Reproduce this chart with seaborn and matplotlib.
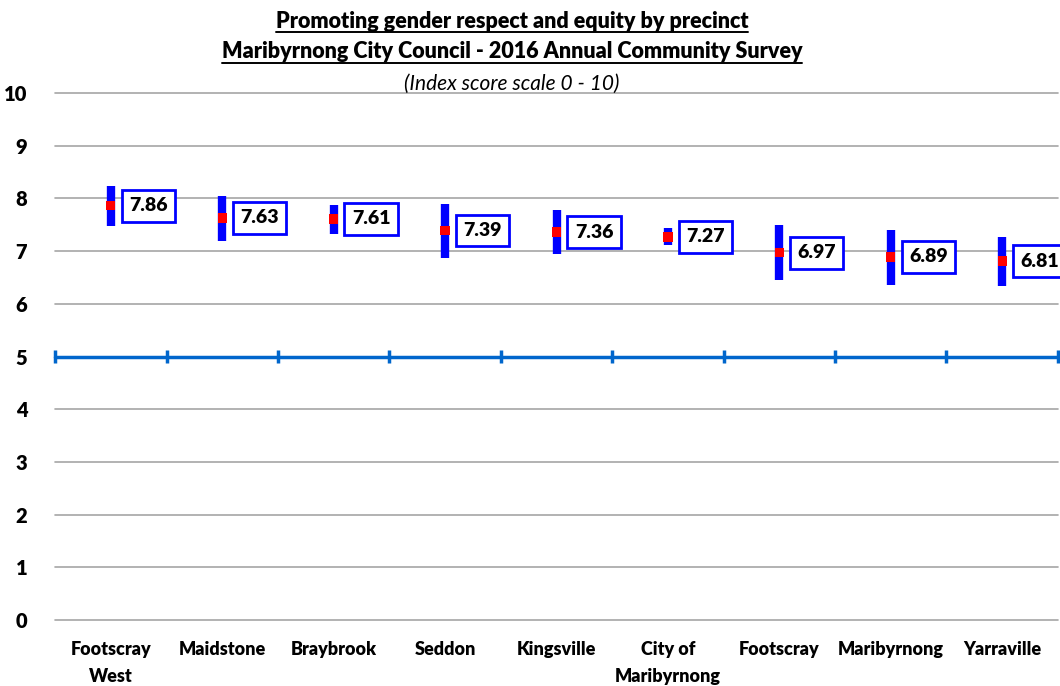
import matplotlib
matplotlib.use("Agg")
import matplotlib.pyplot as plt
import seaborn as sns
import pandas as pd
from matplotlib.lines import Line2D

# values
precincts = ["Footscray\nWest", "Maidstone", "Braybrook", "Seddon", "Kingsville",
             "City of\nMaribyrnong", "Footscray", "Maribyrnong", "Yarraville"]
scores = [7.86, 7.63, 7.61, 7.39, 7.36, 7.27, 6.97, 6.89, 6.81]
ci_low = [7.47, 7.20, 7.33, 6.87, 6.94, 7.12, 6.46, 6.36, 6.33]
ci_high = [8.24, 8.04, 7.88, 7.89, 7.78, 7.43, 7.49, 7.41, 7.27]
yticks = [0, 1, 2, 3, 4, 5, 6, 7, 8, 9, 10]

sns.set_style("white")
plt.rcParams['font.family'] = ['Lato', 'DejaVu Sans']
plt.rcParams['text.color'] = 'black'
plt.rcParams['xtick.color'] = 'black'
plt.rcParams['ytick.color'] = 'black'

df = pd.DataFrame({"precinct": precincts, "score": scores,
                   "lo": ci_low, "hi": ci_high})
df["x"] = range(len(df))

fig = plt.figure(figsize=(10.6, 6.86), dpi=100)
ax = fig.add_axes([0.052, 0.0962, 0.946, 0.7682])

# gridlines
for v in yticks:
    ax.axhline(v, color="#a6a6a6", lw=1.2, zorder=0, clip_on=False)

# reference line at 5 with category ticks
ax.axhline(5, color="#0066cc", lw=2.5, zorder=1, clip_on=False)
ax.vlines([i - 0.5 for i in range(len(df) + 1)], 4.88, 5.12, color="#0066cc",
          lw=2.5, zorder=1, clip_on=False)

# confidence intervals
ax.vlines(df["x"], df["lo"], df["hi"], color="#0000ff", lw=6, zorder=2)
sns.scatterplot(data=df, x="x", y="score", marker="s", color="#ff0000", s=45,
                edgecolor="none", ax=ax, zorder=3)

for _, r in df.iterrows():
    ax.annotate(f"{r['score']:.2f}", (r["x"], r["score"]), xytext=(27, 0),
                textcoords="offset points", ha="center", va="center",
                fontsize=14, fontweight="heavy", color="black",
                bbox=dict(boxstyle="square,pad=0.38", fc="white", ec="#0000ff", lw=2))

ax.set_xlim(-0.5, len(df) - 0.5)
ax.set_ylim(0, 10)
ax.set_yticks(yticks)
ax.set_yticklabels([str(v) for v in yticks], fontsize=14.5, fontweight="heavy")
ax.set_xticks(df["x"])
ax.set_xticklabels(df["precinct"], fontsize=13, fontweight="heavy", linespacing=1.75)
ax.tick_params(axis="both", length=0)
ax.tick_params(axis="y", pad=20)
ax.tick_params(axis="x", pad=15)
ax.set_xlabel("")
ax.set_ylabel("")
for s in ax.spines.values():
    s.set_visible(False)

t1 = fig.text(0.483, 0.969, "Promoting gender respect and equity by precinct",
              ha="center", va="center", fontsize=15.5, fontweight="heavy")
t2 = fig.text(0.483, 0.925, "Maribyrnong City Council - 2016 Annual Community Survey",
              ha="center", va="center", fontsize=15.5, fontweight="heavy")
fig.text(0.483, 0.878, "(Index score scale 0 - 10)", ha="center", va="center",
         fontsize=15, style="italic")

# underline the two title lines
fig.canvas.draw()
inv = fig.transFigure.inverted()
for t in (t1, t2):
    bb = t.get_window_extent()
    (x0, y0), (x1, _) = inv.transform([(bb.x0, bb.y0), (bb.x1, bb.y1)])
    fig.add_artist(Line2D([x0, x1], [y0 - 0.001, y0 - 0.001], color="black",
                          lw=1.4, transform=fig.transFigure))

fig.savefig("out.png", dpi=100)
